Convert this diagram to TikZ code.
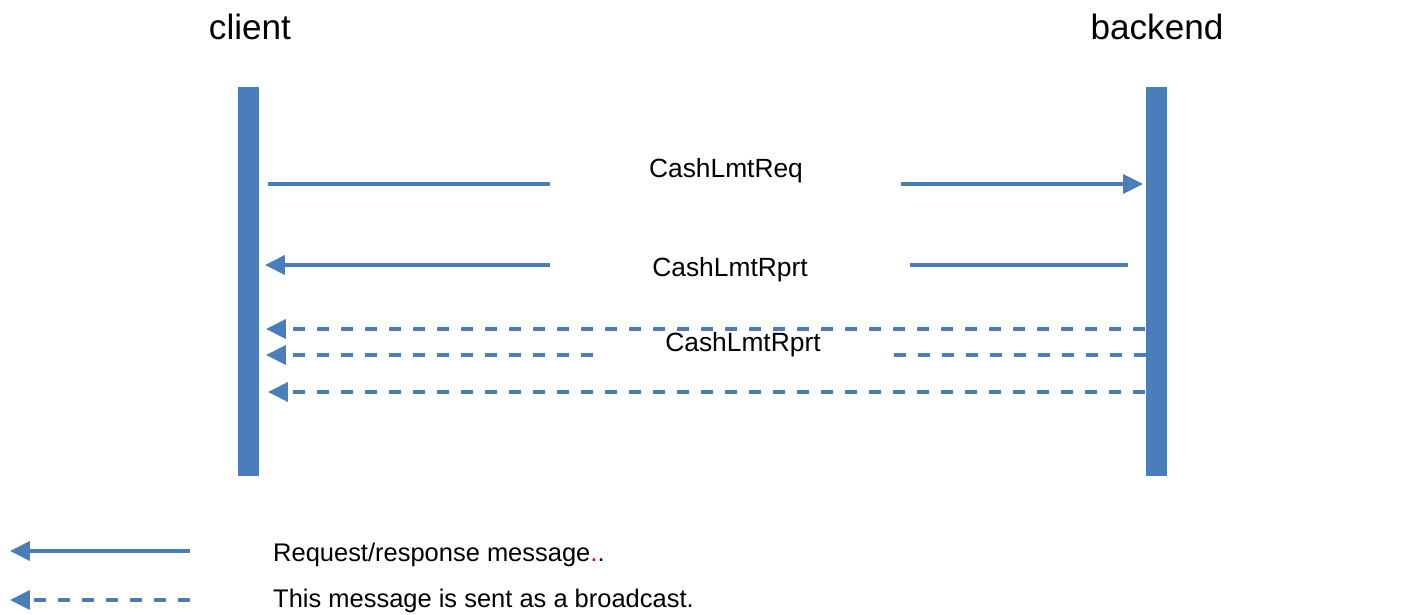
\documentclass[tikz,border=0pt]{standalone}
\usepackage{fontspec}
\setmainfont{Liberation Sans}
\usetikzlibrary{
    arrows.meta,
    positioning
}
\definecolor{msgblue}{HTML}{4A7EBB}
\tikzset{
    every picture/.style = {
        x = 0.02cm,
        y = -0.02cm
    },
    lifeline/.style = {
        fill = msgblue,
        inner sep = 0pt,
        outer sep = 0pt,
        minimum width = 0.42cm,
        minimum height = 7.78cm
    },
    actor/.style = {font = \fontsize{20}{24}\selectfont},
    msglabel/.style = {font = \fontsize{15}{18}\selectfont},
    legendtext/.style = {
        font = \fontsize{14.5}{17}\selectfont,
        anchor = west
    },
    gap/.style = {
        inner sep = 0pt,
        outer sep = 0pt,
        minimum height = 0pt
    },
    msg/.style = {draw = msgblue, line width = 2.2pt},
    bcast/.style = {msg, dash pattern = on 0.25cm off 0.23cm},
    tip/.style = {-{Triangle[length = 0.4cm, width = 0.38cm]}}
}

\begin{document}
\begin{tikzpicture}
    \useasboundingbox (0,0) rectangle (1418,615);

    % lifelines
    \node[lifeline] (client) at (248.5,281.5) {};
    \node[lifeline] (backend) at (1156.5,281.5) {};
    \node[actor] (client name) at (250,27) {client};
    \node[actor] (backend name) at (1157,27) {backend};

    % request
    \node[gap, minimum width = 7.02cm] (req) at (725.5,184) {};
    \node[msglabel] (req label) at (726,171) {CashLmtReq};
    \draw[msg, shorten <= 0.18cm] (client.east |- req) -- (req.west);
    \draw[msg, tip, shorten >= 0.06cm] (req.east) -- (backend.west |- req);

    % response
    \node[gap, minimum width = 7.2cm] (rprt) at (730,265) {};
    \node[msglabel] (rprt label) at (730,270) {CashLmtRprt};
    \draw[msg, shorten <= 0.36cm] (backend.west |- rprt) -- (rprt.east);
    \draw[msg, tip, shorten >= 0.12cm] (rprt.west) -- (client.east |- rprt);

    % broadcasts
    \coordinate (bc one) at (1145,329);
    \coordinate (bc three) at (1145,392);
    \node[gap, minimum width = 5.9cm] (bc two) at (740.5,355) {};
    \node[msglabel] (bc label) at (743,345) {CashLmtRprt};
    \draw[bcast, tip, shorten >= 0.14cm] (bc one) -- (client.east |- bc one);
    \draw[bcast] (backend.west |- bc two) -- (bc two.east);
    \draw[bcast, tip, shorten >= 0.14cm] (bc two.west) -- (client.east |- bc two);
    \draw[bcast, tip, shorten >= 0.18cm] (bc three) -- (client.east |- bc three);

    % legend
    \node[legendtext] (key solid) at (267,555) {Request/response message\textcolor{red}{.}.};
    \node[legendtext] (key dashed) at (267,601) {This message is sent as a broadcast.};
    \coordinate (solid from) at (190,551);
    \coordinate (solid to) at (10,551);
    \coordinate (dashed from) at (190,600);
    \coordinate (dashed to) at (10,600);
    \draw[msg, tip] (solid from) -- (solid to);
    \draw[bcast, tip] (dashed from) -- (dashed to);
\end{tikzpicture}
\end{document}
